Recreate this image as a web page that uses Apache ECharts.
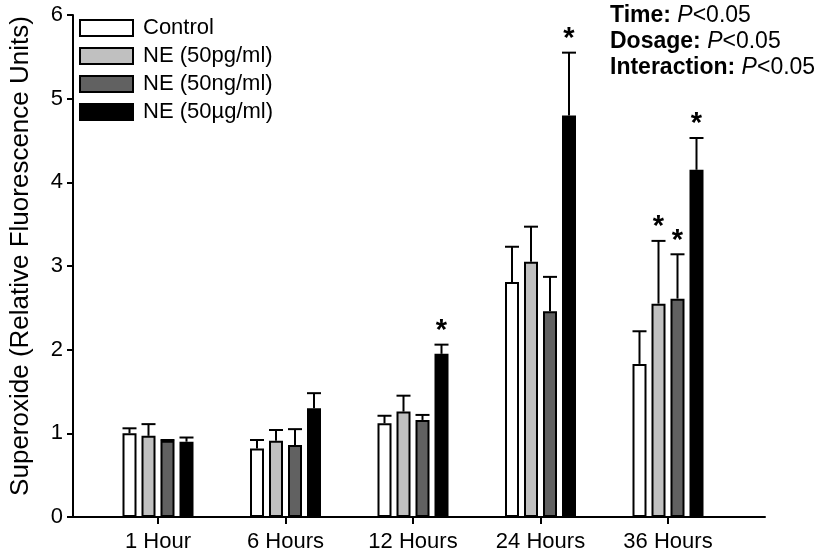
<!DOCTYPE html>
<html>
<head>
<meta charset="utf-8">
<script src="https://cdn.jsdelivr.net/npm/echarts@6/dist/echarts.min.js"></script>
<style>html,body{margin:0;padding:0;background:#fff}#c{width:819px;height:556px}</style>
</head>
<body>
<div id="c"></div>
<script>
const categories = ['1 Hour', '6 Hours', '12 Hours', '24 Hours', '36 Hours'];
const seriesNames = ['Control', 'NE (50pg/ml)', 'NE (50ng/ml)', 'NE (50\u00b5g/ml)'];
const controlMean = [1.00, 0.82, 1.12, 2.81, 1.83];
const pgMean      = [0.97, 0.91, 1.26, 3.05, 2.55];
const ngMean      = [0.91, 0.86, 1.16, 2.46, 2.61];
const ugMean      = [0.90, 1.30, 1.95, 4.80, 4.15];
const controlSem  = [0.06, 0.10, 0.09, 0.42, 0.39];
const pgSem       = [0.14, 0.13, 0.19, 0.42, 0.75];
const ngSem       = [0.01, 0.19, 0.06, 0.41, 0.53];
const ugSem       = [0.05, 0.18, 0.11, 0.75, 0.38];
const controlSig  = [0, 0, 0, 0, 0];
const pgSig       = [0, 0, 0, 0, 1];
const ngSig       = [0, 0, 0, 0, 1];
const ugSig       = [0, 0, 1, 1, 1];
const yTicks = [0, 1, 2, 3, 4, 5, 6];

const means = [controlMean, pgMean, ngMean, ugMean];
const sems = [controlSem, pgSem, ngSem, ugSem];
const sigs = [controlSig, pgSig, ngSig, ugSig];
const colors = ['#ffffff', '#c0c0c0', '#616161', '#000000'];

const FONT = '"Liberation Sans", Arial, sans-serif';
const BAR_W = 14;
const GAP_PX = 5;

const barSeries = seriesNames.map((name, i) => ({
  name: name,
  type: 'bar',
  xAxisIndex: 1,
  yAxisIndex: 1,
  barWidth: BAR_W,
  barGap: (GAP_PX / BAR_W * 100) + '%',
  itemStyle: { color: colors[i], borderColor: '#000', borderWidth: 2 },
  data: means[i],
  z: 2
}));

const errSeries = seriesNames.map((name, i) => ({
  name: name + ' err',
  type: 'custom',
  xAxisIndex: 1,
  yAxisIndex: 1,
  z: 3,
  data: means[i].map((m, k) => [k, m, sems[i][k], sigs[i][k]]),
  renderItem: function (params, api) {
    const k = api.value(0), m = api.value(1), s = api.value(2), sig = api.value(3);
    const off = (i - 1.5) * (BAR_W + GAP_PX);
    const p0 = api.coord([k, m]);
    const p1 = api.coord([k, m + s]);
    const x = p0[0] + off;
    const ls = { stroke: '#000', lineWidth: 2 };
    const children = [
      { type: 'line', shape: { x1: x, y1: p0[1], x2: x, y2: p1[1] }, style: ls },
      { type: 'line', shape: { x1: x - 7, y1: p1[1], x2: x + 7, y2: p1[1] }, style: ls }
    ];
    if (sig) {
      children.push({ type: 'text', style: { text: '*', x: x, y: p1[1] + 1, align: 'center', verticalAlign: 'bottom', fontSize: 29, fontWeight: 'bold', fontFamily: FONT, fill: '#000' } });
    }
    return { type: 'group', children: children };
  }
}));

const chart = echarts.init(document.getElementById('c'));
chart.setOption({
  animation: false,
  backgroundColor: '#fff',
  textStyle: { fontFamily: FONT },
  grid: [
    { left: 62, right: 54, top: 15, bottom: 39, containLabel: false },
    { left: 94.25, right: 87.25, top: 15, bottom: 39, containLabel: false }
  ],
  legend: {
    orient: 'vertical',
    left: 74,
    top: 12,
    itemWidth: 53,
    itemHeight: 16,
    itemGap: 6,
    itemStyle: { borderColor: '#000', borderWidth: 2 },
    icon: 'rect',
    data: seriesNames,
    textStyle: { fontSize: 22, color: '#000', fontFamily: FONT, lineHeight: 22, padding: [0, 0, 0, 5] }
  },
  xAxis: [
    { gridIndex: 0, type: 'value', min: 0, max: 1, axisLine: { show: true, lineStyle: { color: '#000', width: 2 } }, axisTick: { show: false }, axisLabel: { show: false }, splitLine: { show: false } },
    { gridIndex: 1, type: 'category', data: categories, axisLine: { show: false }, axisTick: { show: true, alignWithLabel: true, length: 7, lineStyle: { color: '#000', width: 2 } }, axisLabel: { fontSize: 22, color: '#000', margin: 14, fontFamily: FONT }, splitLine: { show: false } }
  ],
  yAxis: [
    { gridIndex: 0, type: 'value', min: 0, max: 6, interval: 1,
      name: 'Superoxide (Relative Fluorescence Units)', nameLocation: 'middle', nameGap: 39,
      nameTextStyle: { fontSize: 26, color: '#000', fontFamily: FONT, padding: [0, 0, 0, 20] },
      axisLine: { show: true, lineStyle: { color: '#000', width: 2 } },
      axisTick: { show: true, inside: false, length: 6, lineStyle: { color: '#000', width: 2 } },
      axisLabel: { fontSize: 22, color: '#000', margin: 10, fontFamily: FONT, formatter: v => yTicks.includes(v) ? String(v) : '' },
      splitLine: { show: false } },
    { gridIndex: 1, type: 'value', min: 0, max: 6, interval: 1, show: false, splitLine: { show: false } }
  ],
  graphic: [{
    type: 'text', left: 610, top: 3,
    style: {
      text: '{b|Time:} {i|P}{n|<0.05}\n{b|Dosage:} {i|P}{n|<0.05}\n{b|Interaction:} {i|P}{n|<0.05}',
      rich: {
        b: { fontWeight: 'bold', fontSize: 23, fontFamily: FONT, fill: '#000', lineHeight: 26 },
        i: { fontStyle: 'italic', fontSize: 23, fontFamily: FONT, fill: '#000', lineHeight: 26 },
        n: { fontSize: 23, fontFamily: FONT, fill: '#000', lineHeight: 26 }
      },
      fill: '#000', fontSize: 23, fontFamily: FONT, fontWeight: 'bold', lineHeight: 26
    }
  }],
  series: barSeries.concat(errSeries)
});
</script>
</body>
</html>
